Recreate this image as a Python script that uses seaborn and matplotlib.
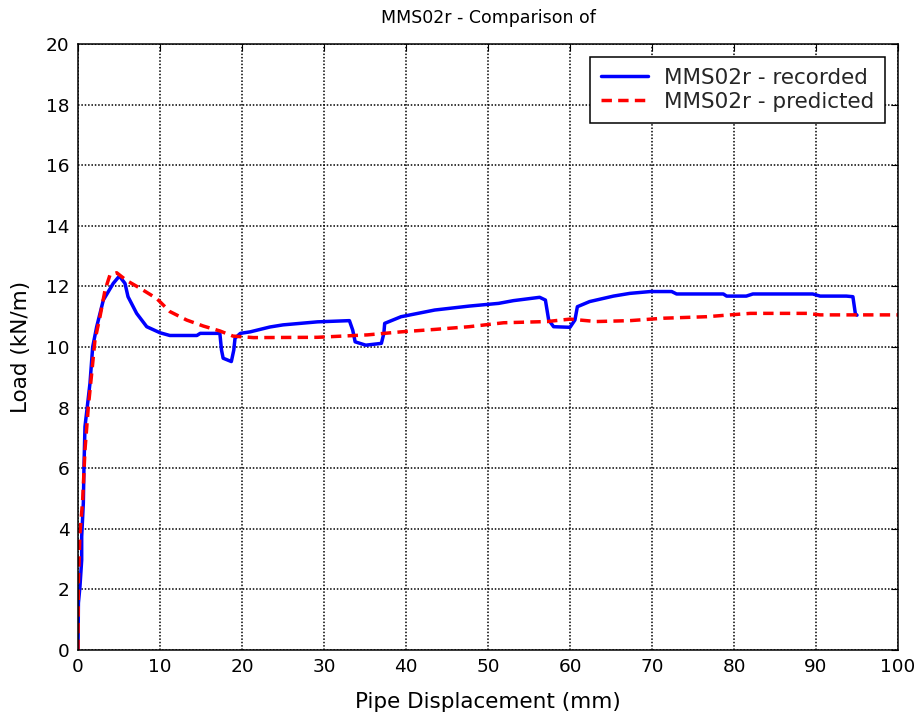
import numpy as np
import pandas as pd
import matplotlib
matplotlib.use("Agg")
import matplotlib.pyplot as plt
import seaborn as sns

# ---- data ----
rec_x = [0, 0.05, 0.24, 0.45, 0.45, 0.65, 0.73, 0.85, 1.46, 1.79, 2.28, 3.09, 4.3, 5.04,
         5.73, 6.1, 7.15, 8.38, 10.0, 11.2, 14.5, 14.9, 17.3, 17.5, 17.7, 18.7, 19.0, 19.15,
         19.8, 21.0, 23.4, 25.0, 29.2, 33.1, 33.5, 33.8, 35.1, 37.0, 37.3, 37.4, 39.4, 43.5,
         47.7, 51.3, 53.1, 56.3, 57.0, 57.4, 58.0, 60.0, 60.6, 60.9, 62.4, 65.3, 67.3, 69.8,
         72.4, 73.0, 78.7, 79.1, 81.5, 82.3, 89.6, 90.5, 93.7, 94.5, 94.8, 95.0]
rec_y = [0, 1.55, 2.1, 2.97, 3.74, 4.85, 6.05, 7.37, 8.8, 10.0, 10.67, 11.55, 12.1, 12.34,
         12.1, 11.66, 11.11, 10.67, 10.47, 10.38, 10.38, 10.45, 10.45, 9.9, 9.63, 9.52, 9.9, 10.29,
         10.45, 10.5, 10.66, 10.73, 10.83, 10.87, 10.56, 10.17, 10.06, 10.12, 10.45, 10.78, 11.0, 11.22,
         11.35, 11.44, 11.53, 11.64, 11.55, 10.89, 10.67, 10.65, 10.89, 11.33, 11.5, 11.68, 11.77, 11.83,
         11.83, 11.75, 11.75, 11.68, 11.68, 11.75, 11.75, 11.68, 11.68, 11.66, 11.1, 11.05]

pred_x = [0, 0.04, 0.24, 0.57, 0.85, 1.26, 1.67, 2.07, 2.68, 3.3, 3.9, 4.72, 5.9, 7.56, 9.6,
          11.2, 13.25, 15.3, 17.3, 18.9, 21.4, 29.2, 35.3, 39.4, 43.5, 47.7, 51.9, 57.2, 60.0,
          63.2, 67.3, 71.4, 76.7, 79.5, 82.0, 88.9, 90.5, 100.0]
pred_y = [0, 2.2, 3.86, 4.95, 6.6, 8.03, 9.13, 10.23, 11.0, 11.88, 12.38, 12.45, 12.2, 11.94, 11.6,
          11.17, 10.89, 10.69, 10.53, 10.36, 10.31, 10.32, 10.4, 10.5, 10.58, 10.67, 10.8, 10.84, 10.92,
          10.84, 10.87, 10.95, 11.0, 11.06, 11.11, 11.11, 11.06, 11.06]

title = "MMS02r - Comparison of"
xlabel = "Pipe Displacement (mm)"
ylabel = "Load (kN/m)"
label_rec = "MMS02r - recorded"
label_pred = "MMS02r - predicted"
xticks = list(range(0, 101, 10))
yticks = list(range(0, 21, 2))

# ---- style ----
sns.set_theme(style="white")
plt.rcParams["font.family"] = ["DejaVu Sans"]
plt.rcParams["xtick.direction"] = "in"
plt.rcParams["ytick.direction"] = "in"

fig = plt.figure(figsize=(9.24, 7.19), dpi=100)
ax = fig.add_axes([78 / 924, 1 - 650 / 719, (898 - 78) / 924, (650 - 44) / 719])

df_rec = pd.DataFrame({"x": rec_x, "y": rec_y})
df_pred = pd.DataFrame({"x": pred_x, "y": pred_y})

sns.lineplot(data=df_rec, x="x", y="y", ax=ax, sort=False, estimator=None,
             color="#0000ff", linewidth=2.5, label=label_rec)
sns.lineplot(data=df_pred, x="x", y="y", ax=ax, sort=False, estimator=None,
             color="#ff0000", linewidth=2.5, label=label_pred)
ax.lines[1].set_linestyle((0, (3.0, 1.8)))

ax.set_xlim(0, 100)
ax.set_ylim(0, 20)
ax.set_xticks(xticks)
ax.set_yticks(yticks)
ax.tick_params(axis="both", labelsize=13.3, colors="black", length=5, width=0.8,
               top=True, right=True, pad=6)
ax.grid(True, color="black", linestyle=(0, (1, 1.2)), linewidth=1.1)
for s in ax.spines.values():
    s.set_color("black")
    s.set_linewidth(1.1)

ax.set_xlabel(xlabel, fontsize=15.5, color="black", labelpad=11)
ax.set_ylabel(ylabel, fontsize=15.5, color="black", labelpad=11)
ax.set_title(title, fontsize=12.5, color="black", pad=15)

leg = ax.legend(loc="upper right", fontsize=15.5, frameon=True, fancybox=False,
                edgecolor="black", framealpha=1, borderpad=0.5, handlelength=2.2,
                handletextpad=0.75, borderaxespad=0.6, labelspacing=0.2)
leg.get_frame().set_linewidth(1.1)

fig.savefig("out.png", dpi=100)
